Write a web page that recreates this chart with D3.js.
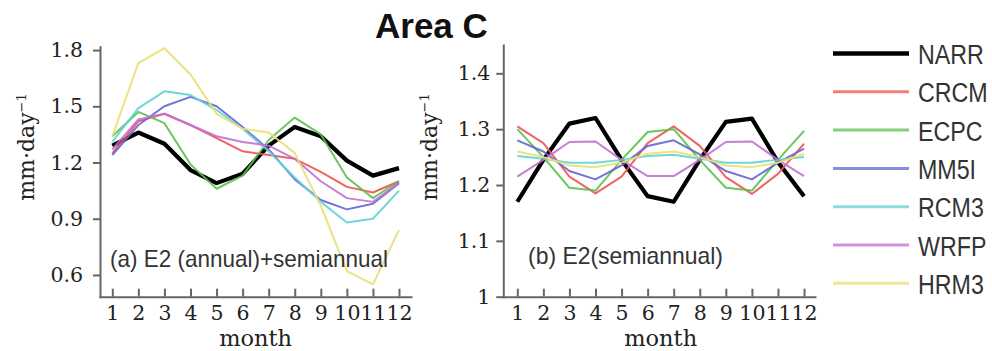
<!DOCTYPE html>
<html>
<head>
<meta charset="utf-8">
<script src="https://cdn.jsdelivr.net/npm/d3@7"></script>
<style>
  body { margin: 0; background: #fff; }
  svg { display: block; }
  .tick text { font-family: "DejaVu Serif", serif; font-size: 20.5px; fill: #222; }
  .axis path, .axis line { stroke: #666; stroke-width: 2; }
</style>
</head>
<body>
<div id="chart"></div>
<script>
// months and models
const months = [1, 2, 3, 4, 5, 6, 7, 8, 9, 10, 11, 12];
const models = ["NARR", "CRCM", "ECPC", "MM5I", "RCM3", "WRFP", "HRM3"];
const colors = ["#000000", "#f0524f", "#5cc04e", "#6464d4", "#62d2d8", "#c070d2", "#e8e070"];

// (a) E2 (annual)+semiannual
const narrA = [1.29, 1.36, 1.30, 1.16, 1.09, 1.14, 1.29, 1.39, 1.34, 1.21, 1.13, 1.17];
const crcmA = [1.25, 1.42, 1.46, 1.40, 1.33, 1.26, 1.24, 1.22, 1.15, 1.07, 1.04, 1.10];
const ecpcA = [1.34, 1.47, 1.41, 1.19, 1.06, 1.13, 1.32, 1.44, 1.35, 1.12, 1.01, 1.10];
const mm5iA = [1.24, 1.40, 1.50, 1.55, 1.50, 1.39, 1.27, 1.11, 1.00, 0.95, 0.98, 1.09];
const rcm3A = [1.31, 1.49, 1.58, 1.56, 1.48, 1.38, 1.26, 1.12, 0.99, 0.88, 0.90, 1.05];
const wrfpA = [1.27, 1.43, 1.46, 1.40, 1.34, 1.31, 1.29, 1.22, 1.10, 1.01, 0.99, 1.09];
const hrm3A = [1.34, 1.73, 1.81, 1.67, 1.46, 1.38, 1.36, 1.25, 0.97, 0.62, 0.55, 0.84];

// (b) E2(semiannual)
const narrB = [1.17, 1.245, 1.31, 1.32, 1.245, 1.18, 1.17, 1.245, 1.313, 1.319, 1.241, 1.18];
const crcmB = [1.305, 1.275, 1.215, 1.185, 1.215, 1.275, 1.305, 1.27, 1.214, 1.184, 1.22, 1.274];
const ecpcB = [1.30, 1.25, 1.195, 1.19, 1.245, 1.295, 1.30, 1.245, 1.195, 1.19, 1.245, 1.297];
const mm5iB = [1.28, 1.26, 1.225, 1.21, 1.235, 1.27, 1.28, 1.255, 1.225, 1.21, 1.24, 1.265];
const rcm3B = [1.252, 1.247, 1.24, 1.24, 1.245, 1.252, 1.254, 1.247, 1.24, 1.24, 1.245, 1.25];
const wrfpB = [1.215, 1.245, 1.277, 1.278, 1.245, 1.216, 1.216, 1.245, 1.277, 1.278, 1.245, 1.216];
const hrm3B = [1.26, 1.25, 1.235, 1.232, 1.24, 1.256, 1.26, 1.25, 1.235, 1.232, 1.24, 1.256];

const ticksA = [0.6, 0.9, 1.2, 1.5, 1.8];
const ticksB = [1, 1.1, 1.2, 1.3, 1.4];

const seriesA = [narrA, crcmA, ecpcA, mm5iA, rcm3A, wrfpA, hrm3A];
const seriesB = [narrB, crcmB, ecpcB, mm5iB, rcm3B, wrfpB, hrm3B];

const width = 992, height = 351;
const svg = d3.select("#chart").append("svg")
    .attr("width", width)
    .attr("height", height);

svg.append("rect").attr("width", width).attr("height", height).attr("fill", "#fff");

const baseY = 296.7;

function drawPanel(opts) {
    const x = d3.scaleLinear().domain(opts.xDomain).range(opts.xRange);
    const y = d3.scaleLinear().domain(opts.yDomain).range([baseY, opts.top]);

    // lines (NARR first so the models sit on top)
    const line = d3.line()
        .x((d, i) => x(months[i]))
        .y(d => y(d));

    opts.series.forEach((vals, k) => {
        svg.append("path")
            .datum(vals)
            .attr("fill", "none")
            .attr("stroke", colors[k])
            .attr("stroke-width", k === 0 ? 4.2 : 2)
            .attr("stroke-linejoin", "round")
            .attr("opacity", k === 0 ? 1 : 0.9)
            .attr("d", line);
    });

    // y axis
    svg.append("g")
        .attr("class", "axis")
        .attr("transform", `translate(${opts.xRange[0]},0)`)
        .call(d3.axisLeft(y)
            .tickValues(opts.yTicks)
            .tickFormat(opts.yFormat)
            .tickSizeInner(7)
            .tickSizeOuter(0)
            .tickPadding(opts.yPad));

    // x axis, ticks pointing up
    svg.append("g")
        .attr("class", "axis")
        .attr("transform", `translate(0,${baseY})`)
        .call(d3.axisBottom(x)
            .tickValues(months)
            .tickFormat(d3.format("d"))
            .tickSizeInner(-8)
            .tickSizeOuter(0)
            .tickPadding(9));

    svg.selectAll(".axis .domain").attr("stroke-linecap", "square");

    // month label
    svg.append("text")
        .attr("x", (x(1) + x(12)) / 2)
        .attr("y", 346)
        .attr("text-anchor", "middle")
        .style("font-family", "DejaVu Serif, serif")
        .style("font-size", "22.5px")
        .attr("fill", "#222")
        .text("month");

    // y label
    const yl = svg.append("text")
        .attr("transform", `translate(${opts.yLabelX},147) rotate(-90)`)
        .attr("text-anchor", "middle")
        .style("font-family", "DejaVu Serif, serif")
        .style("font-size", "22px")
        .attr("fill", "#222");
    yl.append("tspan").text("mm·day");
    yl.append("tspan").attr("dy", -8).style("font-size", "13px").text("−1");

    // panel annotation
    svg.append("text")
        .attr("x", opts.noteX)
        .attr("y", opts.noteY)
        .attr("textLength", opts.noteW)
        .attr("lengthAdjust", "spacingAndGlyphs")
        .style("font-family", "Liberation Sans, sans-serif")
        .style("font-size", "24px")
        .attr("fill", "#333")
        .text(opts.note);
}

drawPanel({
    series: seriesA,
    xDomain: [0.528, 12.46], xRange: [100, 411],
    yDomain: [0.484, 1.818], top: 46.7,
    yTicks: ticksA, yFormat: d3.format(".1f"), yPad: 10,
    yLabelX: 34,
    note: "(a) E2 (annual)+semiannual", noteX: 110, noteY: 267, noteW: 278
});

drawPanel({
    series: seriesB,
    xDomain: [0.463, 12.42], xRange: [503.3, 815],
    yDomain: [1, 1.4507], top: 45,
    yTicks: ticksB, yFormat: d => d === 1 ? "1" : d3.format(".1f")(d), yPad: 6,
    yLabelX: 437,
    note: "(b) E2(semiannual)", noteX: 528, noteY: 264, noteW: 195
});

// title
svg.append("text")
    .attr("x", 375)
    .attr("y", 37.5)
    .style("font-family", "Liberation Sans, Arial, sans-serif")
    .style("font-weight", "bold")
    .style("font-size", "35px")
    .attr("fill", "#111")
    .text("Area C");

// legend (narrow lettering: squeeze horizontally)
const legend = svg.append("g");
models.forEach((m, k) => {
    const ly = 53.5 + k * 38.3;
    legend.append("line")
        .attr("x1", 833).attr("x2", 909)
        .attr("y1", ly).attr("y2", ly)
        .attr("stroke", colors[k])
        .attr("stroke-width", k === 0 ? 4.5 : 3)
        .attr("opacity", k === 0 ? 1 : 0.75);
    legend.append("text")
        .attr("transform", `translate(918,${ly + 10.5}) scale(0.83,1)`)
        .style("font-family", "Liberation Sans, sans-serif")
        .style("font-size", "28px")
        .attr("fill", "#333")
        .text(m);
});
</script>
</body>
</html>
